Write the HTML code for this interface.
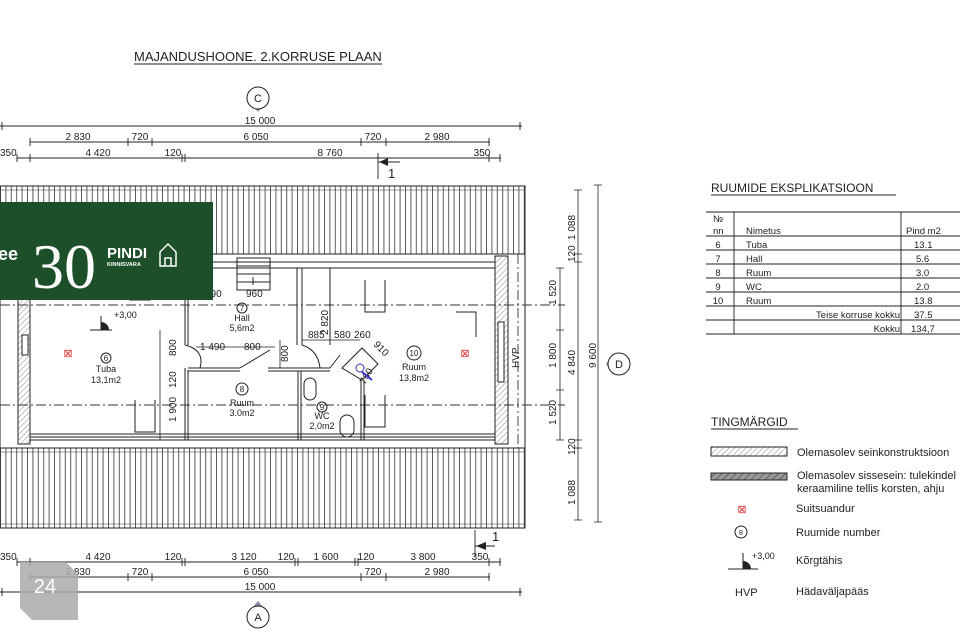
<!DOCTYPE html>
<html><head><meta charset="utf-8"><style>
html,body{margin:0;padding:0;background:#fff;}
svg{display:block;font-family:"Liberation Sans",sans-serif;}
</style></head><body>
<svg width="960" height="640" viewBox="0 0 960 640" xmlns="http://www.w3.org/2000/svg">
<defs>
<pattern id="roof" width="5.4" height="100" patternUnits="userSpaceOnUse">
<line x1="0.5" y1="0" x2="0.5" y2="100" stroke="#333" stroke-width="0.8"/>
</pattern>
<pattern id="wall" width="4" height="4" patternUnits="userSpaceOnUse" patternTransform="rotate(45)">
<line x1="0" y1="0" x2="0" y2="4" stroke="#555" stroke-width="0.7"/>
</pattern>
<pattern id="wall2" width="5" height="5" patternUnits="userSpaceOnUse" patternTransform="rotate(45)">
<rect width="5" height="5" fill="#999"/>
<line x1="0" y1="0" x2="0" y2="5" stroke="#333" stroke-width="1"/>
</pattern>
</defs>
<g fill="#222" font-size="10">
<!-- title -->
<text x="134" y="61" font-size="13">MAJANDUSHOONE. 2.KORRUSE PLAAN</text>
<line x1="134" y1="64" x2="382" y2="64" stroke="#222"/>
<!-- C -->
<polygon points="246,98 252,92 252,104" fill="#88a"/><polygon points="270,98 264,92 264,104" fill="#88a"/><polygon points="258,112 253,106 263,106" fill="#88a"/>
<circle cx="258" cy="98" r="11" fill="#fff" stroke="#222"/><text x="258" y="102" text-anchor="middle" font-size="11">C</text>
<!-- top dims -->
<g stroke="#222" stroke-width="0.9">
<line x1="0" y1="126" x2="522" y2="126"/>
<line x1="30" y1="142" x2="490" y2="142"/>
<line x1="17" y1="158" x2="501" y2="158"/>
<path d="M520 122v8M2 122v8M30 138v8M128 138v8M152 138v8M361 138v8M386 138v8M489 138v8M17 154v8M30 154v8M182 154v8M185 154v8M489 154v8M500 154v8"/>
<line x1="378" y1="153" x2="378" y2="179"/><line x1="378" y1="162" x2="400" y2="162"/>
</g>
<polygon points="379,162 388,158 388,166"/>
<text x="260" y="124" text-anchor="middle">15 000</text>
<text x="78" y="140" text-anchor="middle">2 830</text><text x="140" y="140" text-anchor="middle">720</text><text x="256" y="140" text-anchor="middle">6 050</text><text x="373" y="140" text-anchor="middle">720</text><text x="437" y="140" text-anchor="middle">2 980</text>
<text x="0" y="156">350</text><text x="98" y="156" text-anchor="middle">4 420</text><text x="173" y="156" text-anchor="middle">120</text><text x="330" y="156" text-anchor="middle">8 760</text><text x="482" y="156" text-anchor="middle">350</text>
<text x="388" y="178" font-size="13">1</text>

<!-- roof bands -->
<rect x="0" y="186" width="525" height="68" fill="url(#roof)" stroke="#222"/>
<line x1="0" y1="190" x2="525" y2="190" stroke="#333" stroke-width="0.6"/>
<rect x="0" y="448" width="525" height="80" fill="url(#roof)" stroke="#222"/>
<line x1="0" y1="452" x2="525" y2="452" stroke="#333" stroke-width="0.6"/>
<line x1="0" y1="524" x2="525" y2="524" stroke="#333" stroke-width="0.6"/>
<!-- building -->
<rect x="0" y="254" width="525" height="194" fill="#fff" stroke="#222"/>
<rect x="18" y="256" width="12" height="188" fill="url(#wall)" stroke="#222"/>
<rect x="495" y="256" width="13" height="188" fill="url(#wall)" stroke="#222"/>
<rect x="498" y="322" width="6" height="60" fill="#fff" stroke="#222"/>
<rect x="22" y="335" width="6" height="20" fill="#fff" stroke="#222"/>
<g stroke="#222" fill="none" stroke-width="1">
<rect x="30" y="262" width="465" height="178"/>
<line x1="30" y1="268" x2="495" y2="268"/>
<line x1="30" y1="434" x2="495" y2="434"/>
<line x1="30" y1="437" x2="495" y2="437"/>
<line x1="185" y1="268" x2="185" y2="345"/><line x1="188" y1="268" x2="188" y2="345"/>
<line x1="185" y1="368" x2="185" y2="440"/><line x1="188" y1="370" x2="188" y2="440"/>
<line x1="297" y1="268" x2="297" y2="345"/><line x1="302" y1="268" x2="302" y2="345"/>
<line x1="188" y1="368" x2="240" y2="368"/><line x1="188" y1="371" x2="240" y2="371"/>
<line x1="268" y1="368" x2="330" y2="368"/><line x1="268" y1="371" x2="330" y2="371"/>
<line x1="298" y1="371" x2="298" y2="440"/><line x1="301" y1="371" x2="301" y2="440"/>
<line x1="361" y1="380" x2="361" y2="440"/><line x1="364" y1="380" x2="364" y2="440"/>
<path d="M240 368 L270 350 M185 345 Q205 350 200 368 M302 345 Q318 350 320 368 M330 368 L340 355"/>
<path d="M342 368 L362 348 L378 364 L362 380 Z"/>
<rect x="237" y="258" width="33" height="32"/>
<path d="M237 266h33M237 274h33M237 282h33M253 285v-8"/>
<rect x="304" y="378" width="12" height="22" rx="6"/>
<rect x="340" y="415" width="14" height="22" rx="7"/>
<path d="M130 290v10h20v-10M135 400v32h20v-32M365 280v32h20v-32M365 395v32h20v-32M456 312h20v25"/>
<line x1="330" y1="268" x2="330" y2="345"/>
</g>
<!-- axis -->
<g stroke="#333" stroke-dasharray="10,3,2,3" stroke-width="0.9">
<line x1="0" y1="305" x2="565" y2="305"/><line x1="0" y1="405" x2="565" y2="405"/>
<line x1="518" y1="254" x2="518" y2="448"/>
</g>
<!-- interior dims -->
<g stroke="#222" stroke-width="0.8"><line x1="196" y1="347" x2="275" y2="347"/><line x1="160" y1="330" x2="160" y2="440"/><line x1="280" y1="340" x2="280" y2="368"/><line x1="302" y1="340" x2="360" y2="340"/><line x1="330" y1="268" x2="330" y2="340"/></g>
<text x="200" y="350" font-size="10">1 490</text><text x="244" y="350" font-size="10">800</text>
<text x="205" y="297" font-size="10">890</text><text x="246" y="297" font-size="10">960</text>
<text x="308" y="338" font-size="10">885</text><text x="334" y="338" font-size="10">580</text><text x="354" y="338" font-size="10">260</text>
<text transform="translate(176,356) rotate(-90)" font-size="10">800</text>
<text transform="translate(176,388) rotate(-90)" font-size="10">120</text>
<text transform="translate(176,422) rotate(-90)" font-size="10">1 900</text>
<text transform="translate(288,362) rotate(-90)" font-size="10">800</text>
<text transform="translate(328,335) rotate(-90)" font-size="10">2 820</text>
<text transform="translate(373,345) rotate(45)" font-size="10">910</text>
<text transform="translate(365,385) rotate(-60)" font-size="10">760</text>
<text transform="translate(519,368) rotate(-90)" font-size="10">HVP</text>
<!-- labels -->
<g font-size="9" text-anchor="middle">
<circle cx="106" cy="358" r="5" fill="none" stroke="#222"/><text x="106" y="361" font-size="8">6</text><text x="106" y="372">Tuba</text><text x="106" y="383">13,1m2</text>
<circle cx="242" cy="308" r="5" fill="none" stroke="#222"/><text x="242" y="311" font-size="8">7</text><text x="242" y="321">Hall</text><text x="242" y="331">5,6m2</text>
<circle cx="242" cy="389" r="6" fill="none" stroke="#222"/><text x="242" y="392" font-size="8">8</text><text x="242" y="406">Ruum</text><text x="242" y="416">3.0m2</text>
<circle cx="322" cy="407" r="5" fill="none" stroke="#222"/><text x="322" y="410" font-size="8">9</text><text x="322" y="419">WC</text><text x="322" y="429">2,0m2</text>
<circle cx="414" cy="353" r="7" fill="none" stroke="#222"/><text x="414" y="356" font-size="8">10</text><text x="414" y="370">Ruum</text><text x="414" y="381">13,8m2</text>
</g>
<text x="68" y="357" fill="#d33" font-size="11" text-anchor="middle">⊠</text>
<text x="465" y="357" fill="#d33" font-size="11" text-anchor="middle">⊠</text>
<path d="M90 330h22M101 330v-14" stroke="#222"/><path d="M101 330v-8a8 8 0 0 1 8 8z"/><text x="114" y="318" font-size="9">+3,00</text>
<circle cx="360" cy="368" r="4" fill="none" stroke="#33c"/><path d="M362 372l10 8" stroke="#33c" stroke-width="2"/>
<!-- right dims -->
<g stroke="#222" stroke-width="0.8">
<line x1="560" y1="268" x2="560" y2="440"/><line x1="578" y1="190" x2="578" y2="520"/><line x1="598" y1="185" x2="598" y2="522"/>
<path d="M556 268h8M556 330h8M556 390h8M556 440h8M574 254h8M574 262h8M574 440h8M574 448h8M594 185h8M594 522h8M574 190h8M574 520h8"/>
</g>
<g font-size="10">
<text transform="translate(556,305) rotate(-90)">1 520</text><text transform="translate(556,368) rotate(-90)">1 800</text><text transform="translate(556,425) rotate(-90)">1 520</text>
<text transform="translate(575,240) rotate(-90)">1 088</text><text transform="translate(575,262) rotate(-90)">120</text><text transform="translate(575,375) rotate(-90)">4 840</text><text transform="translate(575,455) rotate(-90)">120</text><text transform="translate(575,505) rotate(-90)">1 088</text>
<text transform="translate(596,368) rotate(-90)">9 600</text>
</g>
<polygon points="606,364 612,356 612,372" fill="#88a"/>
<circle cx="619" cy="364" r="11" fill="#fff" stroke="#222"/><text x="619" y="368" text-anchor="middle" font-size="11">D</text>

<!-- bottom dims -->
<g stroke="#222" stroke-width="0.9">
<line x1="17" y1="562" x2="501" y2="562"/><line x1="30" y1="577" x2="490" y2="577"/><line x1="0" y1="592" x2="522" y2="592"/>
<path d="M17 558v8M30 558v8M182 558v8M185 558v8M295 558v8M298 558v8M355 558v8M358 558v8M489 558v8M500 558v8M30 573v8M128 573v8M152 573v8M361 573v8M386 573v8M489 573v8M2 588v8M520 588v8"/>
<line x1="475" y1="530" x2="475" y2="556"/><line x1="475" y1="546" x2="495" y2="546"/>
</g>
<polygon points="476,546 486,542 486,550"/>
<text x="492" y="541" font-size="13">1</text>
<text x="0" y="560">350</text><text x="98" y="560" text-anchor="middle">4 420</text><text x="173" y="560" text-anchor="middle">120</text><text x="244" y="560" text-anchor="middle">3 120</text><text x="286" y="560" text-anchor="middle">120</text><text x="326" y="560" text-anchor="middle">1 600</text><text x="366" y="560" text-anchor="middle">120</text><text x="423" y="560" text-anchor="middle">3 800</text><text x="480" y="560" text-anchor="middle">350</text>
<text x="78" y="575" text-anchor="middle">2 830</text><text x="140" y="575" text-anchor="middle">720</text><text x="256" y="575" text-anchor="middle">6 050</text><text x="373" y="575" text-anchor="middle">720</text><text x="437" y="575" text-anchor="middle">2 980</text>
<text x="260" y="590" text-anchor="middle">15 000</text>
<polygon points="258,601 253,607 263,607" fill="#88a"/><polygon points="246,616 252,610 252,620" fill="#88a"/><polygon points="270,616 264,610 264,620" fill="#88a"/>
<circle cx="258" cy="617" r="11" fill="#fff" stroke="#222"/><text x="258" y="621" text-anchor="middle" font-size="11">A</text>
<!-- 24 logo -->
<path d="M20 562h46l12 12v46h-46l-12-12z" fill="#aaa" opacity="0.85"/>
<text x="45" y="593" fill="#fff" font-size="20" text-anchor="middle">24</text>

<!-- green banner -->
<rect x="0" y="202" width="213" height="98" fill="#1d4f2a"/>
<text x="-2" y="260" fill="#fff" font-size="18" font-weight="bold">ee</text>
<text x="32" y="288" fill="#fff" font-size="64" font-family="Liberation Serif,serif">30</text>
<text x="107" y="258" fill="#fff" font-size="15" font-weight="bold">PINDI</text>
<text x="107" y="266" fill="#fff" font-size="5.5" font-weight="bold">KINNISVARA</text>
<path d="M160 266v-14l8-8 8 8v14zM165 266v-8h6v8" fill="none" stroke="#fff" stroke-width="1.5"/>

<!-- table -->
<text x="711" y="192" font-size="12">RUUMIDE  EKSPLIKATSIOON</text>
<line x1="711" y1="195" x2="896" y2="195" stroke="#222"/>
<g stroke="#222" stroke-width="0.9">
<path d="M706 212h254M706 236h254M706 250h254M706 264h254M706 278h254M706 292h254M706 306h254M706 320h254M706 334h254"/>
<path d="M734 212v122M901 212v122"/>
</g>
<g font-size="9.5">
<text x="713" y="222">№</text><text x="713" y="234">nn</text><text x="746" y="234">Nimetus</text><text x="906" y="234">Pind m2</text>
<text x="718" y="248" text-anchor="middle">6</text><text x="746" y="248">Tuba</text><text x="914" y="248">13.1</text>
<text x="718" y="262" text-anchor="middle">7</text><text x="746" y="262">Hall</text><text x="916" y="262">5.6</text>
<text x="718" y="276" text-anchor="middle">8</text><text x="746" y="276">Ruum</text><text x="916" y="276">3.0</text>
<text x="718" y="290" text-anchor="middle">9</text><text x="746" y="290">WC</text><text x="916" y="290">2.0</text>
<text x="718" y="304" text-anchor="middle">10</text><text x="746" y="304">Ruum</text><text x="914" y="304">13.8</text>
<text x="900" y="318" text-anchor="end">Teise korruse kokku</text><text x="914" y="318">37.5</text>
<text x="900" y="332" text-anchor="end">Kokku</text><text x="911" y="332">134,7</text>
</g>
<!-- legend -->
<text x="711" y="426" font-size="12">TINGMÄRGID</text>
<line x1="711" y1="429" x2="798" y2="429" stroke="#222"/>
<rect x="711" y="447" width="76" height="9" fill="url(#wall)" stroke="#222"/>
<rect x="711" y="473" width="76" height="7" fill="url(#wall2)" stroke="#222"/>
<g font-size="11">
<text x="797" y="456">Olemasolev seinkonstruktsioon</text>
<text x="797" y="479">Olemasolev sissesein: tulekindel</text>
<text x="797" y="492">keraamiline tellis  korsten, ahju</text>
<text x="796" y="512">Suitsuandur</text>
<text x="796" y="536">Ruumide number</text>
<text x="796" y="564">Kõrgtähis</text>
<text x="796" y="595">Hädaväljapääs</text>
<text x="735" y="596">HVP</text>
</g>
<text x="742" y="513" fill="#d33" font-size="11" text-anchor="middle">⊠</text>
<circle cx="741" cy="532" r="6" fill="none" stroke="#222"/><text x="741" y="535" font-size="7" text-anchor="middle">8</text>
<path d="M728 569h30M743 569v-16" stroke="#222"/><path d="M743 569v-8a8 8 0 0 1 8 8z"/><text x="752" y="559" font-size="9">+3,00</text>
</g>
</svg>
</body></html>
